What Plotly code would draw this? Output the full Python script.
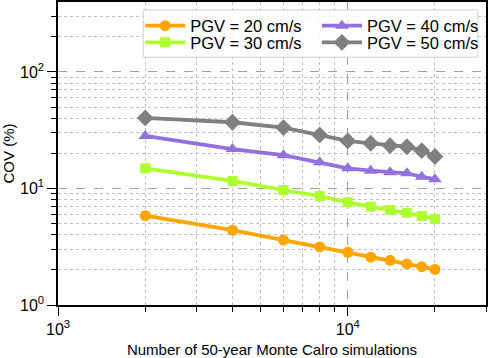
import plotly.graph_objects as go

n_sims = [2000, 4000, 6000, 8000, 10000, 12000, 14000, 16000, 18000, 20000]
cov_pgv20 = [5.84, 4.38, 3.61, 3.15, 2.83, 2.57, 2.42, 2.25, 2.13, 2.02]
cov_pgv30 = [14.9, 11.6, 9.7, 8.6, 7.61, 6.98, 6.54, 6.2, 5.81, 5.47]
cov_pgv40 = [28.2, 21.8, 19.3, 16.8, 14.9, 14.2, 13.8, 13.5, 12.6, 12.0]
cov_pgv50 = [40.3, 37.0, 33.3, 28.8, 25.6, 24.4, 23.3, 22.8, 21.1, 18.8]

x_major = [1000, 10000]
x_major_text = ["10<sup>3</sup>", "10<sup>4</sup>"]
x_minor = [2000, 3000, 4000, 5000, 6000, 7000, 8000, 9000, 20000, 30000]
y_major = [1, 10, 100]
y_major_text = ["10<sup>0</sup>", "10<sup>1</sup>", "10<sup>2</sup>"]
y_minor = [2, 3, 4, 5, 6, 7, 8, 9, 20, 30, 40, 50, 60, 70, 80, 90, 200, 300]

# name, values, colour, marker, marker size, legend id, legend x, legend y
series = [
    ("PGV = 20 cm/s", cov_pgv20, "#FFA500", "circle", 11, "legend", 0.192, 0.921),
    ("PGV = 30 cm/s", cov_pgv30, "#ADFF2F", "square", 10, "legend2", 0.192, 0.866),
    ("PGV = 40 cm/s", cov_pgv40, "#9370DB", "triangle-up", 12, "legend3", 0.605, 0.921),
    ("PGV = 50 cm/s", cov_pgv50, "#808080", "diamond", 13, "legend4", 0.605, 0.866),
]

fig = go.Figure()
for name, vals, color, symbol, size, leg, lx, ly in series:
    fig.add_trace(
        go.Scatter(
            x=n_sims,
            y=vals,
            name=name,
            mode="lines+markers",
            line=dict(color=color, width=3.8),
            marker=dict(color=color, symbol=symbol, size=size),
            legend=leg,
            showlegend=True,
        )
    )
    fig.update_layout(
        {
            leg: dict(
                x=lx,
                y=ly,
                xanchor="left",
                yanchor="middle",
                bgcolor="rgba(0,0,0,0)",
                borderwidth=0,
                itemwidth=40,
                font=dict(size=16.5, color="black", family="Liberation Sans, Arial, sans-serif"),
            )
        }
    )

axis_common = dict(
    type="log",
    automargin=False,
    showline=True,
    linecolor="black",
    linewidth=1.5,
    mirror=True,
    ticks="outside",
    ticklen=9,
    tickwidth=1.3,
    tickcolor="black",
    tickmode="array",
    showgrid=True,
    gridcolor="#a0a0a0",
    griddash="dash",
    gridwidth=1,
    zeroline=False,
    tickfont=dict(size=16, color="black"),
)

minor_common = dict(
    tickmode="array",
    ticks="outside",
    ticklen=5,
    tickwidth=1,
    tickcolor="black",
    showgrid=True,
    gridcolor="#c0c0c0",
    griddash="dot",
    gridwidth=1,
)

fig.update_xaxes(
    **axis_common,
    range=[3, 4.4771],
    tickvals=x_major,
    ticktext=x_major_text,
    minor=dict(**minor_common, tickvals=x_minor),
    title=dict(text="Number of 50-year Monte Calro simulations", font=dict(size=15, color="black")),
)
fig.update_yaxes(
    **axis_common,
    range=[0, 2.6],
    tickvals=y_major,
    ticktext=y_major_text,
    minor=dict(**minor_common, tickvals=y_minor),
    title=dict(text="COV (%)", font=dict(size=15, color="black")),
)

fig.update_layout(
    width=488,
    height=358,
    showlegend=True,
    margin=dict(l=58, r=2, t=2, b=53),
    paper_bgcolor="white",
    plot_bgcolor="white",
    font=dict(family="Liberation Sans, Arial, sans-serif", color="black"),
    shapes=[
        dict(
            type="rect",
            xref="paper",
            yref="paper",
            x0=0.199,
            x1=0.981,
            y0=0.818,
            y1=0.974,
            line=dict(color="#d0d0d0", width=1),
            fillcolor="rgba(255,255,255,0.85)",
            layer="above",
        )
    ],
)

# page body has a default 8px margin; drop it so the figure fills the window
fix_page = (
    "document.body.style.margin='0';"
    "document.body.style.overflow='hidden';"
    "Plotly.relayout('{plot_id}', {width: 488, height: 358});"
)

fig.write_html("out.html", post_script=fix_page, config={"displayModeBar": False})
